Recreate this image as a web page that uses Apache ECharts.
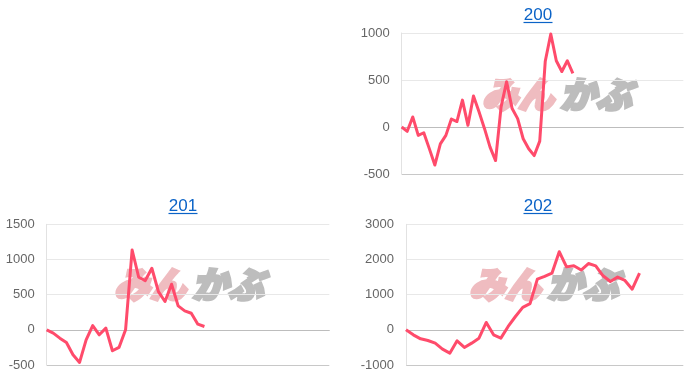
<!DOCTYPE html>
<html><head><meta charset="utf-8">
<script src="https://cdn.jsdelivr.net/npm/echarts@6/dist/echarts.min.js"></script>
<style>html,body{margin:0;padding:0;background:#fff}#c{width:700px;height:378px}</style>
</head><body><div id="c"></div>
<script>
const titles = ['200', '201', '202'];
const values200 = [0, -46, 107, -89, -61, -230, -405, -180, -89, 85, 58, 286, 18, 330, 161, -18, -214, -357, 214, 482, 196, 89, -125, -232, -304, -150, 700, 990, 705, 590, 705, 570];
const values201 = [0, -47, -118, -180, -355, -463, -142, 61, -71, 24, -298, -250, 0, 1135, 747, 700, 875, 544, 402, 648, 340, 270, 236, 80, 47];
const values202 = [0, -142, -256, -303, -380, -550, -664, -313, -502, -379, -237, 209, -142, -237, 95, 379, 640, 745, 1440, 1520, 1611, 2220, 1790, 1820, 1700, 1885, 1820, 1536, 1374, 1498, 1403, 1156, 1611];
const categoryCounts = [52, 44, 39];
const yMins = [-500, -500, -1000];
const yMaxs = [1000, 1500, 3000];
const yIntervals = [500, 500, 1000];
const seriesValues = [values200, values201, values202];

const grids = [
  {left: 401.7, top: 33, width: 281.6, height: 141},
  {left: 46.7, top: 224.3, width: 282.6, height: 140.7},
  {left: 406, top: 224.3, width: 277.3, height: 140.7}
];
const titlePos = [[538, 15], [183, 206], [538, 206]];
const markPos = [[482, 94], [114, 284], [469, 284]];
const FONT = "'Liberation Sans', Arial, Helvetica, sans-serif";
const MARKFONT = 'italic 900 36px "Noto Sans CJK JP", sans-serif';

const xAxes = [], yAxes = [], series = [], graphic = [];
for (let i = 0; i < 3; i++) {
  const cats = Array.from({length: categoryCounts[i]}, (_, k) => String(k + 1));
  xAxes.push({
    type: 'category', gridIndex: i, data: cats, boundaryGap: false,
    axisLabel: {show: false}, axisTick: {show: false},
    axisLine: {show: true, onZero: true, lineStyle: {color: '#bdbdbd', width: 1}},
    splitLine: {show: false}
  });
  yAxes.push({
    type: 'value', gridIndex: i, min: yMins[i], max: yMaxs[i], interval: yIntervals[i],
    axisLine: {show: true, lineStyle: {color: '#e2e2e2'}},
    axisTick: {show: false},
    axisLabel: {color: '#666', fontSize: 13, fontFamily: FONT, margin: 12, formatter: v => String(v)},
    splitLine: {show: true, lineStyle: {color: ['#c8c8c8', '#e8e8e8', '#e8e8e8', '#e8e8e8', '#e8e8e8'], width: 1}}
  });
  series.push({
    type: 'line', name: titles[i], xAxisIndex: i, yAxisIndex: i,
    data: seriesValues[i], showSymbol: false, symbol: 'none', z: 5,
    lineStyle: {color: '#ff4b6b', width: 3, join: 'round'}, itemStyle: {color: '#ff4b6b'},
    animation: false
  });
  graphic.push({
    type: 'text', x: titlePos[i][0], y: titlePos[i][1], z: 10,
    style: {text: titles[i], fill: '#0b63c7', font: '17px ' + FONT, textAlign: 'center', textVerticalAlign: 'middle'}
  });
  graphic.push({
    type: 'line', z: 10,
    shape: {x1: titlePos[i][0] - 14.5, y1: titlePos[i][1] + 7.5, x2: titlePos[i][0] + 14.5, y2: titlePos[i][1] + 7.5},
    style: {stroke: '#0b63c7', lineWidth: 1.2}
  });
  graphic.push({
    type: 'text', x: markPos[i][0], y: markPos[i][1], z: 0, silent: true,
    style: {text: 'みん', fill: '#efbcc0', stroke: '#efbcc0', lineWidth: 3, font: MARKFONT, textAlign: 'left', textVerticalAlign: 'middle'}
  });
  graphic.push({
    type: 'text', x: markPos[i][0] + 78, y: markPos[i][1], z: 0, silent: true,
    style: {text: 'かぶ', fill: '#bdbdbd', stroke: '#bdbdbd', lineWidth: 3, font: MARKFONT, textAlign: 'left', textVerticalAlign: 'middle'}
  });
}

const chart = echarts.init(document.getElementById('c'), null, {renderer: 'canvas'});
chart.setOption({
  animation: false,
  backgroundColor: '#fff',
  grid: grids,
  xAxis: xAxes,
  yAxis: yAxes,
  series: series,
  graphic: graphic
});
</script></body></html>
